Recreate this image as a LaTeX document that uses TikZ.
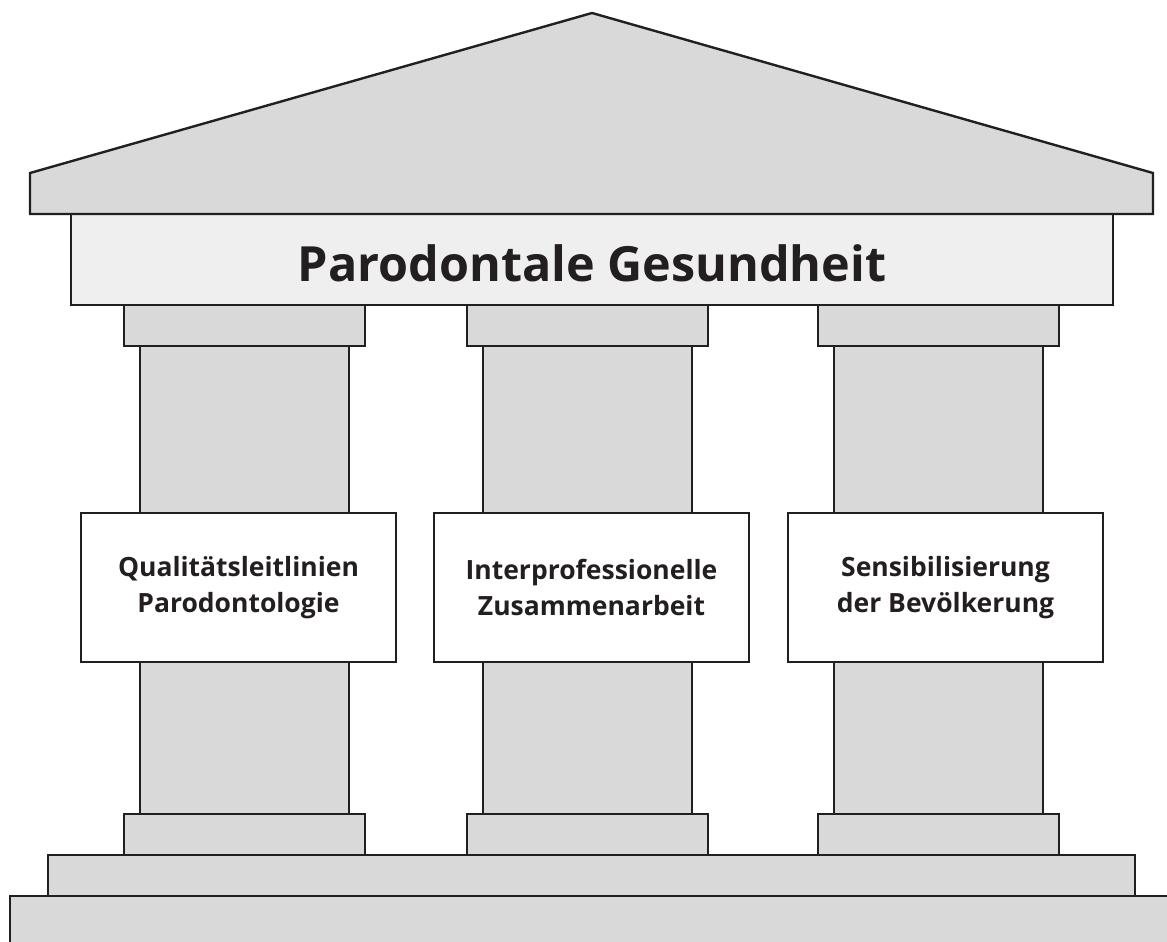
\documentclass[tikz,border=0pt]{standalone}
\usepackage{fontspec}
\setmainfont{Open Sans}
\definecolor{ink}{HTML}{231F20}
\definecolor{stone}{HTML}{D9D9D9}
\definecolor{frieze}{HTML}{EFEFEF}
\begin{document}
\begin{tikzpicture}[x=1pt,y=-1pt,
  part/.style={draw=ink,fill=stone,line width=2.4pt,line join=miter},
  label/.style={draw=ink,fill=white,line width=2.4pt,minimum width=315pt,minimum height=149pt,align=center,inner sep=0pt,font=\fontsize{26.5}{36}\selectfont\bfseries,text=ink},
  title/.style={font=\fontsize{48.5}{52}\selectfont\bfseries,text=ink}]
\useasboundingbox (0,0) rectangle (1167,942);
\begin{scope}
\clip (0,0) rectangle (1167,942);
% steps
\draw[part] (10,896) rectangle (1180,960);
\draw[part] (48,855) rectangle (1135,896);
% pillars
\foreach \x in {124,467,818}{
  \draw[part] (\x+16,346) rectangle (\x+225,814);
  \draw[part] (\x,814) rectangle (\x+241,855);
  \draw[part] (\x,305) rectangle (\x+241,346);
}
% frieze
\draw[part,fill=frieze] (71,214) rectangle (1113,305);
% roof
\draw[part] (30,214) -- (30,173) -- (592,13) -- (1153,173) -- (1153,214) -- cycle;
\end{scope}
\node[title] (t) at (592,263) {Parodontale Gesundheit};
\node[label] (a) at (238.5,587.5) {Qualitätsleitlinien\\Parodontologie};
\node[label] (b) at (591.5,587.5) {Interprofessionelle\\Zusammenarbeit};
\node[label] (c) at (945.5,587.5) {Sensibilisierung\\der Bevölkerung};
\end{tikzpicture}
\end{document}
